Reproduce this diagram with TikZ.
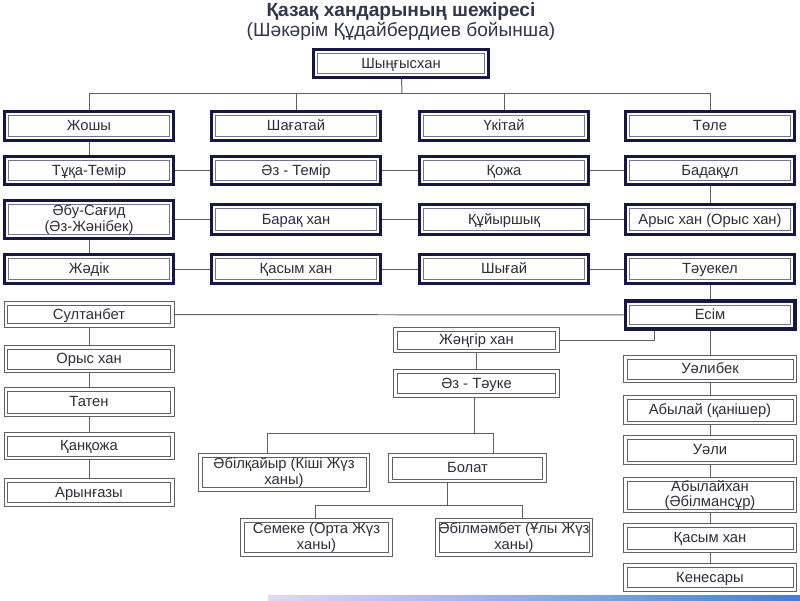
\documentclass[tikz,border=0pt]{standalone}
\usepackage{fontspec}
\setmainfont{Liberation Sans}
\usetikzlibrary{positioning,calc}
\definecolor{navy}{RGB}{22,22,72}
\definecolor{innerline}{RGB}{115,115,150}
\definecolor{linegray}{RGB}{95,95,100}
\definecolor{txtgray}{RGB}{45,45,60}
\definecolor{titlecol}{RGB}{48,54,80}
\tikzset{
    frame/.style={
        fill=white, text=txtgray, inner sep=1pt, align=center,
        font=\fontsize{10.5}{11}\selectfont
    },
    khan/.style={ % thick double frame
        frame, draw=navy, line width=2.4pt,
        path picture={\draw[line width=0.6pt,draw=innerline]
            ([shift={(3pt,-3pt)}]path picture bounding box.north west) rectangle
            ([shift={(-3pt,3pt)}]path picture bounding box.south east);}
    },
    heir/.style={ % thin double frame
        frame, draw=linegray, line width=0.6pt,
        path picture={\draw[line width=0.6pt,draw=linegray]
            ([shift={(2.6pt,-2.6pt)}]path picture bounding box.north west) rectangle
            ([shift={(-2.6pt,2.6pt)}]path picture bounding box.south east);}
    },
    single/.style={text height=8.4pt, text depth=1.6pt},
}

\begin{document}
\begin{tikzpicture}[x=0.025cm,y=-0.025cm]
%% connector style
\tikzstyle{link}=[draw=linegray,line width=0.7pt]

\useasboundingbox (0,0) rectangle (800,600);

%% title
\node[text=titlecol,font=\fontsize{13.6}{15}\selectfont\bfseries] (title) at (401,12) {Қазақ хандарының шежіресі};
\node[text=titlecol,font=\fontsize{13.6}{15}\selectfont] (subtitle) at (401,31) {(Шәкәрім Құдайбердиев бойынша)};

%% nodes
% root
\node[khan,single,minimum width=4.37cm,minimum height=0.7cm] (K-shyngys) at (401,63.5) {Шыңғысхан};
% sons
\foreach \name/\x/\txt in {zhoshy/89/Жошы,shagatai/296/Шағатай,ukitai/504/Үкітай,tole/710/Төле}
\node[khan,single,minimum width=4.22cm,minimum height=0.72cm] (K-\name) at (\x,126) {\txt};
% second row
\foreach \name/\x/\txt in {tuqa/89/Тұқа-Темір,oztemir/296/Әз - Темір,qozha/504/Қожа,badaqul/710/Бадақұл}
\node[khan,single,minimum width=4.22cm,minimum height=0.7cm] (K-\name) at (\x,170.5) {\txt};
% third row
\node[khan,minimum width=4.22cm,minimum height=0.95cm] (K-abusagid) at (89,219.5) {Әбу-Сағид\\(Әз-Жәнібек)};
\foreach \name/\x/\txt in {baraq/296/Барақ хан,quiyrshyq/504/Құйыршық,arys/710/Арыс хан (Орыс хан)}
\node[khan,single,minimum width=4.22cm,minimum height=0.75cm] (K-\name) at (\x,219.5) {\txt};
% fourth row
\foreach \name/\x/\txt in {zhadik/89/Жәдік,qasym/296/Қасым хан,shygai/504/Шығай,tauekel/710/Тәуекел}
\node[khan,single,minimum width=4.22cm,minimum height=0.72cm] (K-\name) at (\x,269) {\txt};
\node[khan,single,minimum width=4.24cm,minimum height=0.7cm] (K-esim) at (710,315) {Есім};

% left branch
\foreach \name/\y/\h/\txt in {sultanbet/314.5/0.63/Султанбет,orys/359/0.68/Орыс хан,taten/402/0.73/Татен,qanqozha/446/0.68/Қанқожа,aryngazy/492.5/0.7/Арынғазы}
\node[heir,single,minimum width=4.25cm,minimum height=\h cm] (K-\name) at (89,\y) {\txt};

% middle branch
\node[heir,single,minimum width=4.15cm,minimum height=0.63cm] (K-zhangir) at (476.5,340) {Жәңгір хан};
\node[heir,single,minimum width=4.15cm,minimum height=0.7cm] (K-oztauke) at (476.5,383.5) {Әз - Тәуке};
\node[heir,minimum width=4.28cm,minimum height=0.95cm] (K-abilqaiyr) at (284,472.5) {Әбілқайыр (Кіші Жүз\\ханы)};
\node[heir,single,minimum width=3.95cm,minimum height=0.73cm] (K-bolat) at (467.5,468) {Болат};
\node[heir,minimum width=3.8cm,minimum height=0.95cm] (K-semeke) at (316.5,537.5) {Семеке (Орта Жүз\\ханы)};
\node[heir,minimum width=3.93cm,minimum height=0.95cm] (K-abilmambet) at (514,537.5) {Әбілмәмбет (Ұлы Жүз\\ханы)};

% right branch
\foreach \name/\y/\h/\txt in {ualibek/369/0.68/Уәлибек,abylai/410/0.73/Абылай (қанішер),uali/450/0.73/Уәли,qasymkhan/538/0.73/Қасым хан,kenesary/577.5/0.7/Кенесары}
\node[heir,single,minimum width=4.33cm,minimum height=\h cm] (K-\name) at (710,\y) {\txt};
\node[heir,minimum width=4.33cm,minimum height=0.88cm] (K-abylaikhan) at (710,495) {Абылайхан\\(Әбілмансұр)};

%% arrows
% root to sons
\coordinate (bus) at (402,93);
\draw[link] (K-shyngys) -- (bus);
\draw[link] (K-zhoshy.north |- bus) -- (K-tole.north |- bus);
\foreach \name in {zhoshy,shagatai,ukitai,tole}
\draw[link] (K-\name.north |- bus) -- (K-\name);
% line of khans
\foreach \from/\to in {zhoshy/tuqa,tuqa/oztemir,oztemir/qozha,qozha/badaqul,badaqul/arys,arys/quiyrshyq,quiyrshyq/baraq,baraq/abusagid,abusagid/zhadik,zhadik/qasym,qasym/shygai,shygai/tauekel,tauekel/esim,esim/sultanbet}
\draw[link] (K-\from) -- (K-\to);
% left and right columns
\foreach \from/\to in {sultanbet/orys,orys/taten,taten/qanqozha,qanqozha/aryngazy,esim/ualibek,ualibek/abylai,abylai/uali,uali/abylaikhan,abylaikhan/qasymkhan,qasymkhan/kenesary}
\draw[link] (K-\from) -- (K-\to);
% middle
\coordinate (ej) at (654,340);
\draw[link] (K-esim.south -| ej) -- (ej) -- (K-zhangir);
\draw[link] (K-zhangir) -- (K-oztauke);
\coordinate (tk) at (474,433);
\coordinate (tkL) at (267,433);
\coordinate (tkR) at (493,433);
\draw[link] (K-oztauke.south -| tk) -- (tk);
\draw[link] (K-abilqaiyr.north -| tkL) -- (tkL) -- (tkR) -- (K-bolat.north -| tkR);
\coordinate (bt) at (447,505);
\coordinate (btL) at (315,505);
\coordinate (btR) at (522,505);
\draw[link] (K-bolat.south -| bt) -- (bt);
\draw[link] (K-semeke.north -| btL) -- (btL) -- (btR) -- (K-abilmambet.north -| btR);

% bottom bar
\shade[left color={rgb,255:red,228;green,214;blue,242},right color={rgb,255:red,62;green,128;blue,218}] (268,595) rectangle (800,600);
\end{tikzpicture}
\end{document}
